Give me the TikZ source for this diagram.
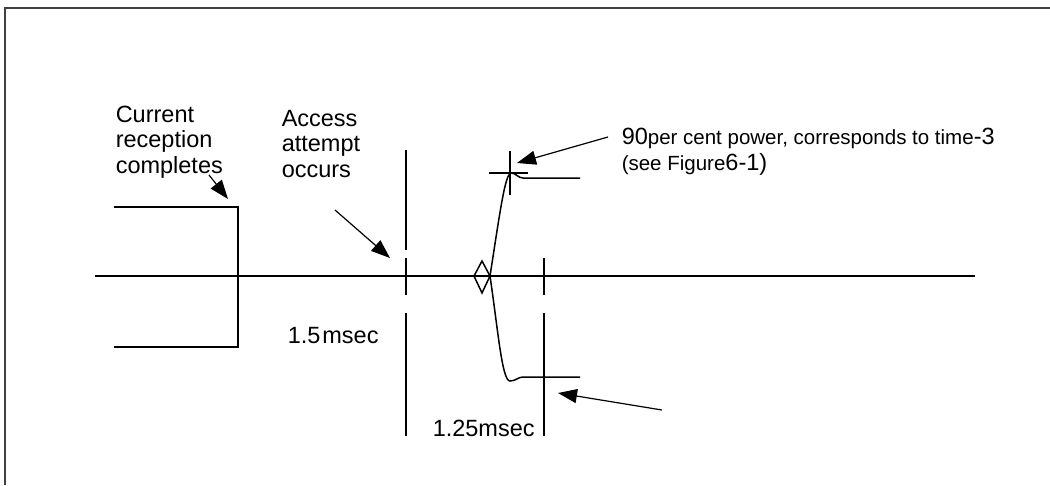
\documentclass[tikz,border=0pt]{standalone}
\usepackage{fontspec}
\setmainfont{Liberation Sans}
\usetikzlibrary{arrows.meta}
\newcommand{\smtxt}[1]{{\fontsize{20.5}{25}\selectfont #1}}

\begin{document}
\begin{tikzpicture}[x=1pt, y=-1pt, line width=1.5pt,
    lbl/.style={anchor=base west, inner sep=0pt, align=left, font=\fontsize{23.5}{25.5}\selectfont},
    pointer/.style={-{Triangle[length=19pt,width=14pt,fill=black]}, line width=1.2pt}]
  \useasboundingbox (0,0) rectangle (1050,485);
  \draw[line width=2pt, black!75] (5,485) -- (5,8) -- (1050,8);
  % time axis and the end of the current reception
  \draw (95,276) -- (975,276);
  \draw (114,207) -- (238,207) -- (238,347) -- (114,347);
  % markers
  \draw (406,150) -- (406,250) (406,258) -- (406,295) (406,313) -- (406,436);
  \draw (544,258) -- (544,295) (544,313) -- (544,436);
  \draw (482,261) -- (490,276) -- (482,293) -- (474,276) -- cycle;
  \draw (510,151) -- (510,195) (489,173) -- (528,173);
  % power ramp
  \draw (490,276) .. controls (500,212) and (505,174) .. (511,173)
    .. controls (516,173) and (518,178) .. (523,178) -- (580,178);
  \draw (490,276) .. controls (498,330) and (502,381) .. (510,381)
    .. controls (516,381) and (518,377) .. (523,377) -- (580,377);
  % labels (base is the last line)
  \node[lbl] (current) at (115,173) {Current\\reception\\completes};
  \node[lbl] (access) at (281,177) {Access\\attempt\\occurs};
  \node[lbl] (gap1) at (287,343) {1.5\kern2pt msec};
  \node[lbl] (gap2) at (432,436) {1.25msec};
  \node[lbl] (power) at (621,170) {90\smtxt{per cent power, corresponds to time}-3\\
    \smtxt{(see Figure}6-1)};
  \coordinate (c1) at (209,175);
  \coordinate (c2) at (228,199);
  \coordinate (a1) at (335,210);
  \coordinate (a2) at (390,258);
  \coordinate (p1) at (608,137);
  \coordinate (p2) at (517,163);
  \coordinate (q1) at (662,410);
  \coordinate (q2) at (558,393);
  \draw[pointer] (c1) -- (c2);
  \draw[pointer] (a1) -- (a2);
  \draw[pointer] (p1) -- (p2);
  \draw[pointer] (q1) -- (q2);
\end{tikzpicture}
\end{document}
